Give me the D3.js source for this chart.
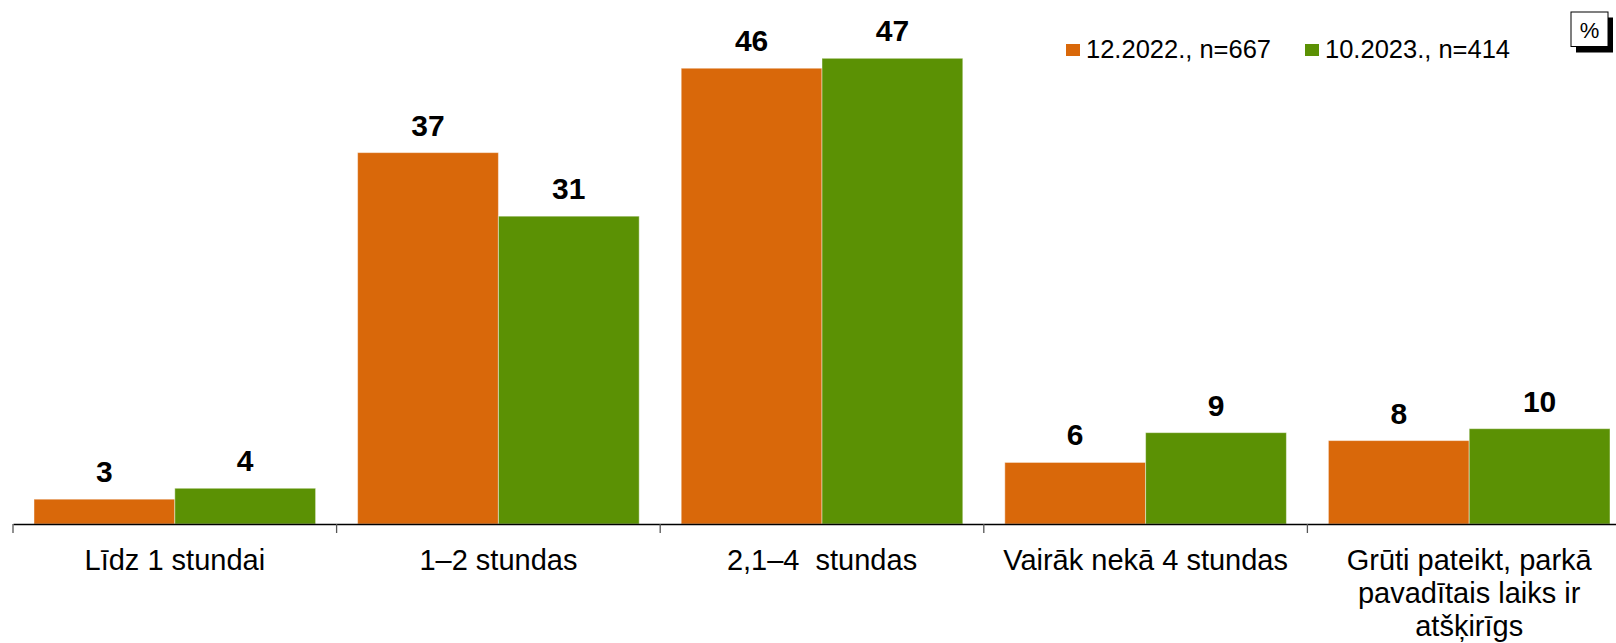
<!DOCTYPE html>
<html>
<head>
  <meta charset="utf-8">
  <script src="https://cdn.jsdelivr.net/npm/d3@7/dist/d3.min.js"></script>
  <style>
    body { margin:0; background:#fff; }
    svg { font-family: "Liberation Sans", Arial, sans-serif; display:block; }
    .cat text { white-space: pre; }
  </style>
</head>
<body>
  <div id="chart"></div>
  <script>
    // data
    var categories = ['Līdz 1 stundai', '1–2 stundas', '2,1–4  stundas', 'Vairāk nekā 4 stundas', 'Grūti pateikt, parkā\npavadītais laiks ir\natšķirīgs'];
    var seriesNames = ['12.2022., n=667', '10.2023., n=414'];
    var dec2022 = [2.5, 37.4, 45.9, 6.2, 8.4];
    var oct2023 = [3.6, 31.0, 46.9, 9.2, 9.6];
    var colors = ['#D9680A', '#5B9104'];

    var W = 1616, H = 643;
    var svg = d3.select('#chart').append('svg')
      .attr('width', W)
      .attr('height', H);

    var baseY = 524;
    var x0 = d3.scaleBand()
      .domain(categories)
      .range([13, 13 + 5 * 323.6]);
    var x1 = d3.scaleBand()
      .domain([0, 1])
      .range([21, x0.bandwidth() - 21]);
    var y = d3.scaleLinear()
      .domain([0, 50])
      .range([baseY, 27.5]);

    var rows = categories.map(function(c, i) {
      return { cat: c, vals: [dec2022[i], oct2023[i]] };
    });

    var groups = svg.selectAll('g.grp')
      .data(rows)
      .enter().append('g')
      .attr('class', 'grp')
      .attr('transform', function(d) { return 'translate(' + x0(d.cat) + ',0)'; });

    groups.selectAll('rect')
      .data(function(d) { return d.vals; })
      .enter().append('rect')
      .attr('x', function(d, i) { return x1(i); })
      .attr('y', function(d) { return y(d); })
      .attr('width', x1.bandwidth())
      .attr('height', function(d) { return baseY - y(d); })
      .attr('fill', function(d, i) { return colors[i]; })
      .attr('stroke', 'rgba(255,255,255,0.45)')
      .attr('stroke-width', 1);

    groups.selectAll('text.val')
      .data(function(d) { return d.vals; })
      .enter().append('text')
      .attr('class', 'val')
      .attr('x', function(d, i) { return x1(i) + x1.bandwidth() / 2; })
      .attr('y', function(d) { return y(d) - 17; })
      .attr('text-anchor', 'middle')
      .attr('font-weight', 'bold')
      .attr('font-size', 30)
      .attr('fill', '#000')
      .text(function(d) { return Math.round(d); });

    // x axis
    var axis = svg.append('g')
      .attr('class', 'cat')
      .attr('transform', 'translate(0,' + baseY + ')')
      .call(d3.axisBottom(x0).tickSize(0).tickPadding(0));
    axis.select('.domain').attr('stroke', '#000').attr('stroke-width', 1.3);
    axis.selectAll('.tick text').remove();
    axis.selectAll('.tick').each(function(d) {
      var lines = d.split('\n');
      var t = d3.select(this).append('text')
        .attr('text-anchor', 'middle')
        .attr('font-size', 29)
        .attr('fill', '#000');
      lines.forEach(function(l, k) {
        t.append('tspan').attr('x', 0).attr('y', 45.5 + k * 33.3).text(l);
      });
    });
    var bounds = categories.map(function(c) { return x0(c); }).concat([x0.range()[1]]);
    axis.selectAll('line.bt')
      .data(bounds)
      .enter().append('line')
      .attr('class', 'bt')
      .attr('x1', function(d) { return d; })
      .attr('x2', function(d) { return d; })
      .attr('y1', 0)
      .attr('y2', 9)
      .attr('stroke', '#555')
      .attr('stroke-width', 1.3);

    // legend
    var legX = [1066, 1305];
    var leg = svg.selectAll('g.leg')
      .data(seriesNames)
      .enter().append('g')
      .attr('class', 'leg')
      .attr('transform', function(d, i) { return 'translate(' + legX[i] + ',44)'; });
    leg.append('rect')
      .attr('width', 14).attr('height', 12)
      .attr('fill', function(d, i) { return colors[i]; });
    leg.append('text')
      .attr('x', 20).attr('y', 14.3)
      .attr('font-size', 25.5)
      .attr('fill', '#000')
      .text(function(d) { return d; });

    // % box
    svg.append('rect').attr('x', 1576).attr('y', 17.5).attr('width', 37).attr('height', 35).attr('fill', '#000');
    svg.append('rect').attr('x', 1571).attr('y', 12).attr('width', 37).attr('height', 34.5)
      .attr('fill', '#fff').attr('stroke', '#000').attr('stroke-width', 1);
    svg.append('text').attr('x', 1589.5).attr('y', 37.5).attr('text-anchor', 'middle')
      .attr('font-size', 22).attr('fill', '#000').text('%');
  </script>
</body>
</html>
